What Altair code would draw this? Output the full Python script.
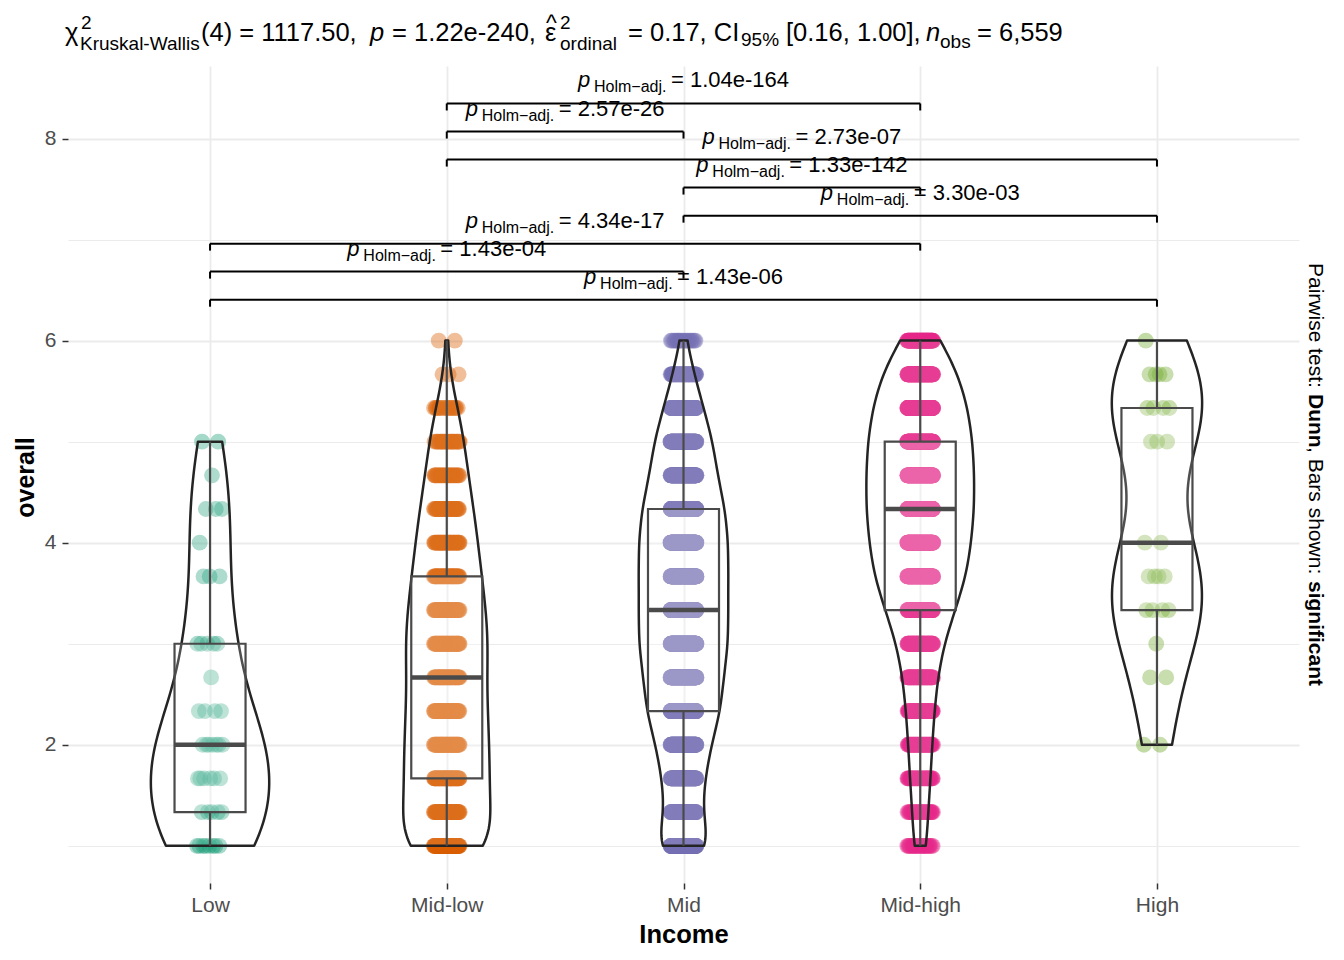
import json
import numpy as np
import pandas as pd
import altair as alt

alt.data_transformers.disable_max_rows()

# ---------------- data ----------------
CATEGORIES = ["Low", "Mid-low", "Mid", "Mid-high", "High"]
LEVELS = [1, 4/3, 5/3, 2, 7/3, 8/3, 3, 10/3, 11/3, 4, 13/3, 14/3, 5, 16/3, 17/3, 6]
COUNTS_LOW = [8, 5, 6, 7, 4, 1, 5, 0, 3, 1, 3, 1, 2, 0, 0, 0]
COUNTS_MIDLOW = [89, 67, 71, 69, 67, 64, 69, 64, 57, 51, 44, 35, 29, 19, 3, 2]
COUNTS_MID = [197, 131, 153, 197, 263, 284, 317, 316, 317, 317, 295, 241, 208, 142, 77, 22]
COUNTS_MIDHIGH = [29, 36, 46, 54, 64, 79, 107, 157, 207, 229, 243, 243, 236, 214, 172, 93]
COUNTS_HIGH = [0, 0, 0, 2, 0, 2, 1, 4, 4, 2, 0, 0, 3, 4, 4, 1]
COLORS = ["#1B9E77", "#D95F02", "#7570B3", "#E7298A", "#66A61E"]

PAIR_FROM = ["Mid-low", "Mid-low", "Mid-low", "Mid", "Mid", "Low", "Low", "Low"]
PAIR_TO = ["Mid-high", "Mid", "High", "Mid-high", "High", "Mid-high", "Mid", "High"]
P_ADJ = ["1.04e-164", "2.57e-26", "2.73e-07", "1.33e-142", "3.30e-03", "4.34e-17", "1.43e-04", "1.43e-06"]
BRACKET_Y = [8.347, 8.069, 7.792, 7.515, 7.237, 6.960, 6.683, 6.405]

TITLE_TEXT = ["\u03c7", "2", "Kruskal-Wallis", "(4) = 1117.50,", "p", "= 1.22e-240,",
              "\u03b5", "^", "2", "ordinal", "= 0.17, CI", "95%", "[0.16, 1.00],",
              "n", "obs", "= 6,559"]
RIGHT_TEXT = ["Pairwise test:", "Dunn", ", Bars shown:", "significant"]

# ---------------- layout ----------------
FONT = "Liberation Sans"
PLOT_W, PLOT_H = 1231, 817
PAD = {"left": 60, "top": 58, "right": 37, "bottom": 66}
ORIGIN_X = 8 + PAD["left"]
ORIGIN_Y = 8 + PAD["top"]
X_DOMAIN = [0.4, 5.6]
Y_DOMAIN = [0.632, 8.718]
PXU = PLOT_W / (X_DOMAIN[1] - X_DOMAIN[0])
PYU = PLOT_H / (Y_DOMAIN[1] - Y_DOMAIN[0])

TITLE_X = [65, 81, 80, 201, 370, 392, 545, 546, 560, 560, 628, 741, 786, 926, 940, 977]
TITLE_Y = [41, 29, 50, 41, 41, 41, 41, 31, 29, 50, 41, 46, 41, 41, 48, 41]
TITLE_SIZE = [25.5, 19, 19, 25.5, 25.5, 25.5, 25.5, 23, 19, 19, 25.5, 19, 25.5, 25.5, 19, 25.5]
TITLE_STYLE = ["normal", "normal", "normal", "normal", "italic", "normal", "normal", "normal",
               "normal", "normal", "normal", "normal", "normal", "italic", "normal", "normal"]
RIGHT_X = 1309
RIGHT_Y = [263, 394, 447, 581]
RIGHT_WEIGHT = ["normal", "bold", "normal", "bold"]

JITTER = 0.055
BOX_HALF = 0.15
VIOLIN_HALF = 0.25
TIP_PX = 7
BOX_COL = "#4A4A4A"

# ---------------- observations ----------------
groups = [COUNTS_LOW, COUNTS_MIDLOW, COUNTS_MID, COUNTS_MIDHIGH, COUNTS_HIGH]
recs = []
for gi, (cat, counts) in enumerate(zip(CATEGORIES, groups)):
    i = 0
    for lev, c in zip(LEVELS, counts):
        for _ in range(c):
            recs.append({"Income": cat, "idx": gi + 1, "value": lev, "i": i})
            i += 1
obs = pd.DataFrame(recs)


def nrd0(x):
    x = np.asarray(x, float)
    sd = np.std(x, ddof=1)
    q75, q25 = np.percentile(x, [75, 25])
    lo = min(sd, (q75 - q25) / 1.34)
    if not lo:
        lo = sd or abs(x[0]) or 1.0
    return 0.9 * lo * len(x) ** -0.2


def kde_peak(x, h):
    x = np.asarray(x, float)
    grid = np.linspace(x.min(), x.max(), 400)
    d = np.exp(-0.5 * ((grid[:, None] - x[None, :]) / h) ** 2).sum(1) / (len(x) * h * np.sqrt(2 * np.pi))
    return d.max()


BW = {}
peaks = []
for cat in CATEGORIES:
    vals = obs.loc[obs.Income == cat, "value"].to_numpy()
    BW[cat] = nrd0(vals)
    peaks.append(kde_peak(vals, BW[cat]))
DMAX = float(max(peaks))

XS = alt.Scale(domain=X_DOMAIN, nice=False, zero=False)
YS = alt.Scale(domain=Y_DOMAIN, nice=False, zero=False)

even = "datum.value % 2 == 0"
x_axis = alt.Axis(
    values=[1, 2, 3, 4, 5],
    labelExpr=f"{json.dumps(CATEGORIES)}[datum.value - 1]",
    title="Income", titleFontSize=25.5, titleFontWeight="bold", titleColor="black",
    titleY=59, titleBaseline="alphabetic",
    labelFontSize=21, labelColor="#4D4D4D", labelPadding=5,
    tickSize=6, tickColor="#333333", tickWidth=1.5,
    domain=False, grid=True, gridColor="#EBEBEB", gridWidth=1.8,
)
y_axis = alt.Axis(
    values=[1, 2, 3, 4, 5, 6, 7, 8],
    labelExpr=f"{even} ? datum.label : ''",
    title="overall", titleFontSize=25, titleFontWeight="bold", titleColor="black",
    titleAngle=-90, titleX=-35, titleY=411, titleBaseline="alphabetic", titleAlign="center",
    labelFontSize=21, labelColor="#4D4D4D", labelPadding=6,
    tickSize=6, tickColor="#333333", tickWidth=1.5,
    tickOpacity={"condition": {"test": even, "value": 1}, "value": 0},
    domain=False, grid=True, gridColor="#EBEBEB",
    gridWidth={"condition": {"test": even, "value": 1.8}, "value": 1.0},
)


def X(field):
    return alt.X(field, scale=XS, axis=x_axis)


def Y(field):
    return alt.Y(field, scale=YS, axis=y_axis)


points = alt.Chart().transform_calculate(
    jx=f"datum.idx + ((datum.i * 0.6180339887) % 1 - 0.5) * {2 * JITTER}"
).mark_circle(size=250, opacity=0.4).encode(
    x=X("jx:Q"),
    y=Y("value:Q"),
    color=alt.Color("Income:N", scale=alt.Scale(domain=CATEGORIES, range=COLORS), legend=None),
)

violins = []
for gi, cat in enumerate(CATEGORIES):
    vals = obs.loc[obs.Income == cat, "value"]
    violins.append(
        alt.Chart().transform_filter(alt.datum.Income == cat).transform_density(
            "value", as_=["value", "density"], bandwidth=float(BW[cat]),
            extent=[float(vals.min()), float(vals.max())], steps=200,
        ).transform_calculate(
            xl=f"{gi + 1} - {VIOLIN_HALF} * datum.density / {DMAX}",
            xr=f"{gi + 1} + {VIOLIN_HALF} * datum.density / {DMAX}",
        ).mark_area(orient="horizontal", fill="white", fillOpacity=0.1,
                    stroke="#242424", strokeWidth=2.5, strokeJoin="round").encode(
            y=Y("value:Q"),
            x=X("xl:Q"),
            x2="xr:Q",
        )
    )

box_base = alt.Chart().transform_aggregate(
    q1="q1(value)", med="median(value)", q3="q3(value)", groupby=["Income", "idx"]
).transform_calculate(bx1=f"datum.idx - {BOX_HALF}", bx2=f"datum.idx + {BOX_HALF}")

box = box_base.mark_rect(fill="white", fillOpacity=0.2, stroke=BOX_COL, strokeWidth=2.2).encode(
    x=X("bx1:Q"), x2="bx2:Q",
    y=Y("q1:Q"), y2="q3:Q",
)
median = box_base.mark_rule(color=BOX_COL, strokeWidth=4.5).encode(
    x=X("bx1:Q"), x2="bx2:Q",
    y=Y("med:Q"),
)

w_base = alt.Chart().transform_joinaggregate(
    q1="q1(value)", q3="q3(value)", groupby=["Income"]
).transform_filter(
    "datum.value >= datum.q1 - 1.5 * (datum.q3 - datum.q1) && datum.value <= datum.q3 + 1.5 * (datum.q3 - datum.q1)"
).transform_aggregate(
    lo="min(value)", hi="max(value)", wq1="max(q1)", wq3="max(q3)", groupby=["Income", "idx"]
)
w_low = w_base.mark_rule(color=BOX_COL, strokeWidth=2.2).encode(
    x=X("idx:Q"), y=Y("lo:Q"), y2="wq1:Q",
)
w_high = w_base.mark_rule(color=BOX_COL, strokeWidth=2.2).encode(
    x=X("idx:Q"), y=Y("wq3:Q"), y2="hi:Q",
)

# ---------------- pairwise brackets ----------------
cat_idx = {c: i + 1 for i, c in enumerate(CATEGORIES)}
CHAR_EM = {".": 0.278, "e": 0.556, "-": 0.333}


def val_width(s, size):
    return size * sum(0.556 if ch.isdigit() else CHAR_EM.get(ch, 0.5) for ch in s)


br = pd.DataFrame({
    "x1": [cat_idx[a] for a in PAIR_FROM],
    "x2": [cat_idx[b] for b in PAIR_TO],
    "y": BRACKET_Y,
    "lab": ["= " + p for p in P_ADJ],
})
W = np.array([93 + (0.584 + 0.278) * 22 + val_width(p, 22) for p in P_ADJ])
br["ytip"] = br["y"] - TIP_PX / PYU
br["xc"] = (br["x1"] + br["x2"]) / 2
br["xa"] = br["xc"] + (93 - W / 2) / PXU
br["ly"] = br["y"] + 16 / PYU

b_h = alt.Chart(br).mark_rule(color="black", strokeWidth=2).encode(
    x=X("x1:Q"), x2="x2:Q", y=Y("y:Q"))
b_l = alt.Chart(br).mark_rule(color="black", strokeWidth=2).encode(
    x=X("x1:Q"), y=Y("y:Q"), y2="ytip:Q")
b_r = alt.Chart(br).mark_rule(color="black", strokeWidth=2).encode(
    x=X("x2:Q"), y=Y("y:Q"), y2="ytip:Q")

lab_enc = dict(x=X("xa:Q"), y=Y("ly:Q"))
t_p = alt.Chart(br).mark_text(text="p", fontStyle="italic", fontSize=22, align="left",
                              baseline="alphabetic", dx=-93, color="black").encode(**lab_enc)
t_sub = alt.Chart(br).mark_text(text="Holm\u2212adj.", fontSize=16, align="left",
                                baseline="alphabetic", dx=-77, dy=5, color="black").encode(**lab_enc)
t_val = alt.Chart(br).mark_text(fontSize=22, align="left", baseline="alphabetic",
                                color="black").encode(text="lab:N", **lab_enc)

# ---------------- title & side caption ----------------
one = pd.DataFrame({"k": [0]})
texts = []
for t, x, y, s, st in zip(TITLE_TEXT, TITLE_X, TITLE_Y, TITLE_SIZE, TITLE_STYLE):
    texts.append(alt.Chart(one).mark_text(text=t, fontSize=s, fontStyle=st, align="left",
                                          baseline="alphabetic", color="black").encode(
        x=alt.value(x - ORIGIN_X), y=alt.value(y - ORIGIN_Y)))
for t, y, w in zip(RIGHT_TEXT, RIGHT_Y, RIGHT_WEIGHT):
    texts.append(alt.Chart(one).mark_text(text=t, fontSize=21, fontWeight=w, align="left",
                                          baseline="alphabetic", angle=90, color="black").encode(
        x=alt.value(RIGHT_X - ORIGIN_X), y=alt.value(y - ORIGIN_Y)))

chart = alt.layer(
    points, *violins, box, w_low, w_high, median,
    b_h, b_l, b_r, t_p, t_sub, t_val, *texts,
    data=obs,
).properties(
    width=PLOT_W, height=PLOT_H,
    autosize=alt.AutoSizeParams(type="none"),
    padding=PAD,
).configure(font=FONT).configure_view(strokeWidth=0)

chart.save("out.html", embed_options={"renderer": "svg", "actions": False})
